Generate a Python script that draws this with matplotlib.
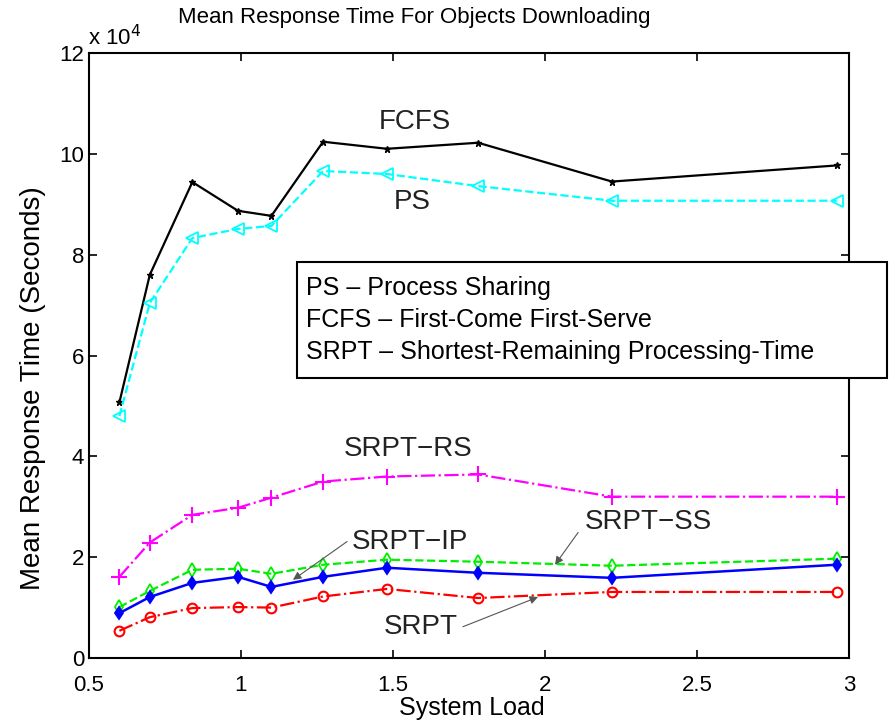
import numpy as np
import matplotlib
matplotlib.use('Agg')
import matplotlib.pyplot as plt
from matplotlib.patches import Rectangle

load = [0.60, 0.70, 0.84, 0.99, 1.10, 1.27, 1.48, 1.78, 2.22, 2.96]

fcfs = [5.07, 7.60, 9.44, 8.87, 8.77, 10.24, 10.10, 10.22, 9.45, 9.77]
ps = [4.80, 7.04, 8.33, 8.51, 8.57, 9.66, 9.60, 9.36, 9.07, 9.07]
srpt_rs = [1.61, 2.29, 2.84, 2.98, 3.18, 3.50, 3.60, 3.64, 3.20, 3.20]
srpt_ss = [1.01, 1.33, 1.75, 1.77, 1.67, 1.85, 1.95, 1.91, 1.83, 1.97]
srpt_ip = [0.89, 1.21, 1.49, 1.61, 1.41, 1.61, 1.79, 1.69, 1.59, 1.85]
srpt = [0.54, 0.81, 0.99, 1.01, 1.00, 1.22, 1.37, 1.19, 1.31, 1.31]

box_lines = ['PS \u2013 Process Sharing',
             'FCFS \u2013 First-Come First-Serve',
             'SRPT \u2013 Shortest-Remaining Processing-Time']

plt.rcParams['font.family'] = ['Liberation Sans', 'DejaVu Sans']

W, H = 891, 720
fig = plt.figure(figsize=(W / 100, H / 100), dpi=100)
ax = fig.add_axes([89 / W, 1 - 658 / H, (849 - 89) / W, (658 - 53) / H])

ax.plot(load, fcfs, '-', color='black', lw=1.6, marker='*', ms=5)
ax.plot(load, ps, '--', color='cyan', lw=1.6, marker='<', ms=9, mfc='none', mew=1.3)
ax.plot(load, srpt_rs, '-.', color='magenta', lw=1.6, marker='+', ms=12, mew=1.5)
ax.plot(load, srpt_ss, '--', color='#00ee00', lw=1.6, marker='d', ms=7, mfc='none', mew=1.3)
ax.plot(load, srpt_ip, '-', color='blue', lw=1.8, marker='d', ms=6.5, mew=1.3)
ax.plot(load, srpt, '-.', color='red', lw=1.6, marker='o', ms=7, mfc='none', mew=1.5)

ax.set_xlim(0.5, 3)
ax.set_ylim(0, 12)
ax.set_xticks([0.5, 1, 1.5, 2, 2.5, 3])
ax.set_xticklabels(['0.5', '1', '1.5', '2', '2.5', '3'])
ax.set_yticks(range(0, 13, 2))
ax.tick_params(direction='in', top=True, right=True, length=6, width=1.2,
               labelsize=16)
ax.tick_params(axis='x', pad=12)
for s in ax.spines.values():
    s.set_linewidth(1.5)

lab_kw = dict(fontsize=20, color='#222222')
ax.text(1.572, 10.64, 'FCFS', ha='center', va='center', **lab_kw)
ax.text(1.562, 9.05, 'PS', ha='center', va='center', **lab_kw)
ax.text(1.549, 4.14, 'SRPT\u2212RS', ha='center', va='center', **lab_kw)

arr = dict(arrowstyle='-|>', color='#555555', lw=0.8, mutation_scale=12, shrinkA=0, shrinkB=0)
ax.annotate('', xy=(1.171, 1.55), xytext=(1.349, 2.31), arrowprops=arr)
ax.text(1.365, 2.31, 'SRPT\u2212IP', ha='left', va='center', **lab_kw)
ax.annotate('', xy=(2.033, 1.85), xytext=(2.109, 2.49), arrowprops=arr)
ax.text(2.13, 2.69, 'SRPT\u2212SS', ha='left', va='center', **lab_kw)
ax.annotate('', xy=(1.977, 1.21), xytext=(1.730, 0.62), arrowprops=arr)
ax.text(1.712, 0.62, 'SRPT', ha='right', va='center', **lab_kw)

# definitions box, sticks out past the right axis
fig.patches.append(Rectangle((297 / W, 1 - 378 / H), (887 - 297) / W, (378 - 262) / H,
                             transform=fig.transFigure, fill=True, fc='white',
                             ec='black', lw=1.5, zorder=5))
for i, t in enumerate(box_lines):
    fig.text(306 / W, 1 - (288 + 32 * i) / H, t, ha='left', va='center',
             fontsize=18, zorder=6)

fig.text(414 / W, 1 - 18 / H, 'Mean Response Time For Objects Downloading',
         ha='center', va='center', fontsize=16)
fig.text(88 / W, 1 - 38 / H, 'x 10$^4$', ha='left', va='center', fontsize=16)
fig.text(472 / W, 1 - 708 / H, 'System Load', ha='center', va='center', fontsize=18)
fig.text(33 / W, 1 - 388 / H, 'Mean Response Time (Seconds)', ha='center', va='center',
         rotation=90, fontsize=20)

fig.savefig('out.png', dpi=100)
